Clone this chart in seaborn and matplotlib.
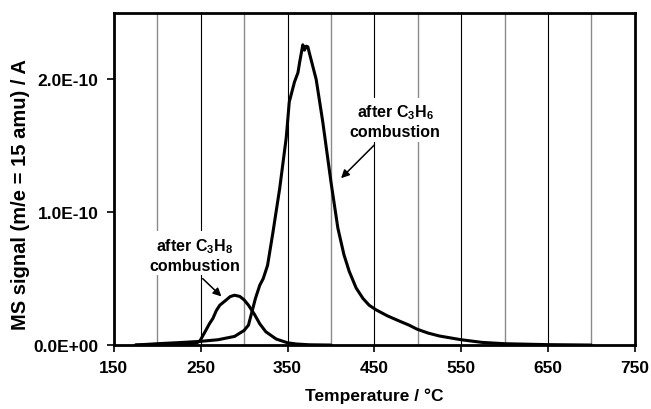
import numpy as np
import pandas as pd
import matplotlib
matplotlib.use("Agg")
import matplotlib.pyplot as plt
from matplotlib.ticker import FixedLocator, FuncFormatter
import seaborn as sns

# MS signal for m/e = 15 during TPO, in units of 1e-10 A
temp_c3h6 = [175, 200, 230, 250, 270, 289, 300, 305, 309, 313, 318, 322, 327, 333,
             341, 348.5, 352, 358, 362, 364, 367.6, 369.5, 371.5, 373.4, 375.3, 383,
             390.6, 400, 408, 415, 421, 429, 437, 444, 452, 465, 479, 490, 499, 512,
             525, 550, 574, 600, 650, 700]
sig_c3h6 = [0.0, 0.01, 0.02, 0.028, 0.04, 0.065, 0.11, 0.15, 0.25, 0.35, 0.45, 0.50,
            0.60, 0.84, 1.18, 1.56, 1.83, 1.98, 2.05, 2.13, 2.26, 2.22, 2.25, 2.245,
            2.195, 2.0, 1.68, 1.23, 0.88, 0.68, 0.556, 0.43, 0.35, 0.30, 0.265, 0.22,
            0.18, 0.15, 0.12, 0.09, 0.068, 0.04, 0.02, 0.01, 0.003, 0.0]

temp_c3h8 = [175, 200, 230, 245, 249, 255, 260, 264, 268, 272, 279.5, 284, 289, 295,
             300, 305, 312, 318, 325, 337, 350, 360, 375, 400]
sig_c3h8 = [0.0, 0.003, 0.008, 0.015, 0.03, 0.10, 0.16, 0.20, 0.26, 0.30, 0.34, 0.365,
            0.375, 0.366, 0.34, 0.30, 0.23, 0.16, 0.10, 0.045, 0.017, 0.008, 0.002, 0.0]

x_ticks = [150, 250, 350, 450, 550, 650, 750]
y_ticks = [0.0, 1.0e-10, 2.0e-10]
y_tick_labels = ["0.0E+00", "1.0E-10", "2.0E-10"]

scale = 1e-10
df = pd.concat([
    pd.DataFrame({"T": temp_c3h6, "S": np.array(sig_c3h6) * scale, "run": "C3H6"}),
    pd.DataFrame({"T": temp_c3h8, "S": np.array(sig_c3h8) * scale, "run": "C3H8"}),
])

sns.set_theme(style="white")
plt.rcParams["font.family"] = ["Liberation Sans", "DejaVu Sans"]
plt.rcParams["font.weight"] = "bold"
plt.rcParams["mathtext.fontset"] = "custom"
plt.rcParams["mathtext.rm"] = "Liberation Sans:bold"
plt.rcParams["mathtext.bf"] = "Liberation Sans:bold"
for key in ("text.color", "axes.labelcolor", "xtick.color", "ytick.color"):
    plt.rcParams[key] = "black"

fig = plt.figure(figsize=(6.51, 4.10), dpi=100)
ax = fig.add_axes([0.175, 0.156, 0.800, 0.810])

# vertical grid: black at labelled ticks, grey halfway between
for x in range(200, 750, 50):
    major = (x - 150) % 100 == 0
    ax.axvline(x, color="black" if major else "#8a8a8a",
               lw=0.8 if major else 1.0, zorder=0)

sns.lineplot(data=df, x="T", y="S", units="run", estimator=None, sort=False,
             color="black", lw=2.2, ax=ax, legend=False, zorder=3)

ax.set_xlim(150, 750)
ax.set_ylim(0, 2.5e-10)
ax.xaxis.set_major_locator(FixedLocator(x_ticks))
ax.yaxis.set_major_locator(FixedLocator(y_ticks))
ax.yaxis.set_major_formatter(FuncFormatter(
    lambda v, p: y_tick_labels[int(round(v / 1e-10))]))
ax.tick_params(axis="both", which="major", direction="out", length=5, width=1.2,
               color="black", labelcolor="black", labelsize=12.5, pad=6,
               bottom=True, left=True)
for lbl in ax.get_xticklabels() + ax.get_yticklabels():
    lbl.set_fontweight("bold")

for sp in ax.spines.values():
    sp.set_color("black")
    sp.set_linewidth(2.0)

ax.set_xlabel("Temperature / \u00b0C", fontsize=12.5, fontweight="bold", labelpad=9)
ax.set_ylabel("MS signal (m/e = 15 amu) / A", fontsize=14.5, fontweight="bold")
ax.yaxis.set_label_coords(-0.162, 0.455)

box = dict(facecolor="white", edgecolor="none", pad=2)
ax.text(243, 0.684e-10, "after C$_\\mathbf{3}$H$_\\mathbf{8}$\ncombustion",
        ha="center", va="center", fontsize=11.5, fontweight="bold",
        linespacing=1.25, bbox=box, zorder=4)
ax.text(474, 1.69e-10, "after C$_\\mathbf{3}$H$_\\mathbf{6}$\ncombustion",
        ha="center", va="center", fontsize=11.5, fontweight="bold",
        linespacing=1.25, bbox=box, zorder=4)

arrow = dict(arrowstyle="-|>", color="black", lw=1.1, mutation_scale=12,
             shrinkA=0, shrinkB=0)
ax.annotate("", xy=(273.8, 0.366e-10), xytext=(252.3, 0.50e-10),
            arrowprops=arrow, zorder=5)
ax.annotate("", xy=(411.7, 1.256e-10), xytext=(450, 1.506e-10),
            arrowprops=arrow, zorder=5)

fig.savefig("out.png", dpi=100)
